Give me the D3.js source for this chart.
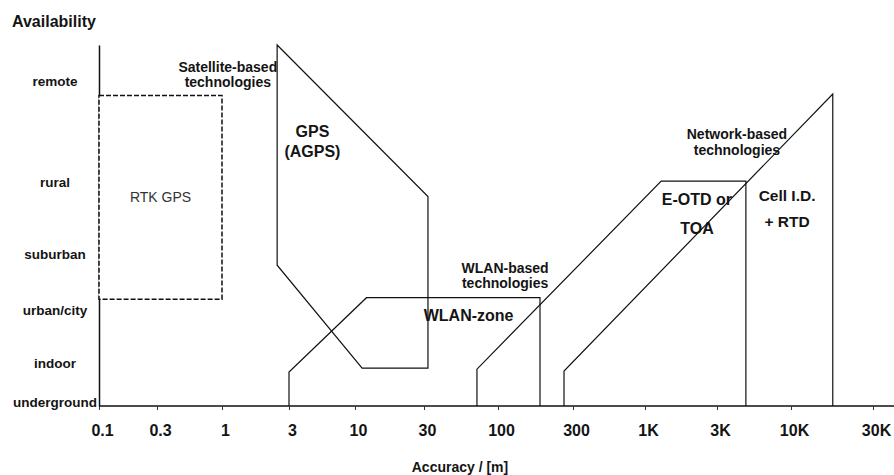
<!DOCTYPE html>
<html>
<head>
<meta charset="utf-8">
<script src="https://d3js.org/d3.v7.min.js"></script>
<style>
  body { margin: 0; background: #fff; }
  text { font-family: Arial, "Liberation Sans", sans-serif; fill: #141414; }
</style>
</head>
<body>
<div id="chart"></div>
<script>
// x: accuracy in metres (drawn as equal steps per tick, like the original)
var accTicks = [0.1, 0.3, 1, 3, 10, 30, 100, 300, 1000, 3000, 10000, 30000];
var accLabels = ["0.1", "0.3", "1", "3", "10", "30", "100", "300", "1K", "3K", "10K", "30K"];

// y: availability level, 0 = bottom of axis, 100 = top
var availLevels = [1, 12, 26.5, 42, 62, 90];
var availLabels = ["underground", "indoor", "urban/city", "suburban", "rural", "remote"];

// outlines of each technology as [accuracy, availability]
var rtkGps = [[0.1, 86], [1, 86], [1, 29.6], [0.1, 29.6]];
var gps    = [[2.47, 100], [32, 58], [32, 10.5], [11.2, 10.5], [2.47, 39]];
var wlan   = [[3, 0], [3, 9.4], [12, 30], [185, 30], [185, 0]];
var eotd   = [[71, 0], [71, 10.2], [1280, 62.3], [4800, 62.3], [4800, 0]];
var cellId = [[263, 0], [263, 9.7], [17500, 86.4], [17500, 0]];

// annotations
var noteText = [["Satellite-based", "technologies"], ["GPS", "(AGPS)"], ["RTK GPS"],
                ["WLAN-based", "technologies"], ["WLAN-zone"], ["E-OTD or", "TOA"],
                ["Cell I.D.", "+ RTD"], ["Network-based", "technologies"]];
var noteAt = [[1.1, 92.4], [4.6, 74.5], [0.32, 56.5], [111, 36.8], [62, 23.5],
              [2210, 55.7], [9380, 56.8], [4150, 73.9]];

var width = 894, height = 475;

var svg = d3.select("#chart")
  .append("svg")
    .attr("width", width)
    .attr("height", height);

// tick pixel positions as measured on the original figure (steps are not even)
var tickPx = [99, 157, 222, 289, 355, 424, 498, 573, 645, 717, 791, 873];
var x = d3.scaleLog()
  .domain(accTicks)
  .range(tickPx);

var y = d3.scaleLinear()
  .domain([0, 100])
  .range([406, 45]);

// x axis
var xAxis = svg.append("g")
  .attr("transform", "translate(0," + y(0) + ")")
  .call(d3.axisBottom(x)
    .tickValues(accTicks)
    .tickFormat(function(d, i) { return accLabels[i]; })
    .tickSize(4)
    .tickSizeOuter(0));
xAxis.select(".domain")
  .attr("d", "M" + x(0.1) + ",0H" + width)
  .attr("stroke", "#111")
  .attr("stroke-width", 1.5);
xAxis.selectAll(".tick line").attr("stroke", "#333");
xAxis.selectAll("text")
  .attr("y", 19)
  .attr("dx", 3)
  .style("font-size", "16px")
  .style("font-weight", "bold");

// y axis
var yAxis = svg.append("g")
  .attr("transform", "translate(" + x(0.1) + ",0)")
  .call(d3.axisLeft(y)
    .tickValues(availLevels)
    .tickFormat(function(d, i) { return availLabels[i]; })
    .tickSize(0)
    .tickSizeOuter(0));
yAxis.select(".domain")
  .attr("stroke", "#111")
  .attr("stroke-width", 1.5);
yAxis.selectAll("text")
  .attr("x", -44)
  .attr("text-anchor", "middle")
  .style("font-size", "13.5px")
  .style("font-weight", "bold");

var outline = d3.line()
  .x(function(d) { return x(d[0]); })
  .y(function(d) { return y(d[1]); });
var outlineClosed = d3.line()
  .x(function(d) { return x(d[0]); })
  .y(function(d) { return y(d[1]); })
  .curve(d3.curveLinearClosed);

// RTK GPS dashed box
svg.append("path")
  .attr("d", outlineClosed(rtkGps))
  .attr("fill", "#fff")
  .attr("stroke", "#111")
  .attr("stroke-width", 1.5)
  .attr("stroke-dasharray", "5,2");

svg.append("path")
  .attr("d", outlineClosed(gps))
  .attr("fill", "none")
  .attr("stroke", "#111")
  .attr("stroke-width", 1.2);

[wlan, eotd, cellId].forEach(function(shape) {
  svg.append("path")
    .attr("d", outline(shape))
    .attr("fill", "none")
    .attr("stroke", "#111")
    .attr("stroke-width", 1.2);
});

// annotation styles
var noteSize = [14, 16, 14, 14, 16, 16, 15.5, 14];
var noteGap = [15, 20, 0, 15, 0, 29, 26, 16];
var noteWeight = ["bold", "bold", "normal", "bold", "bold", "bold", "bold", "bold"];

noteText.forEach(function(lines, i) {
  var t = svg.append("text")
    .attr("x", x(noteAt[i][0]))
    .attr("y", y(noteAt[i][1]))
    .attr("text-anchor", "middle")
    .style("font-size", noteSize[i] + "px")
    .style("font-weight", noteWeight[i]);
  if (noteWeight[i] == "normal") t.style("fill", "#333");
  lines.forEach(function(s, j) {
    t.append("tspan")
      .attr("x", x(noteAt[i][0]))
      .attr("dy", j == 0 ? 0 : noteGap[i])
      .text(s);
  });
});

// axis titles
svg.append("text")
  .attr("x", 12)
  .attr("y", 27)
  .style("font-size", "16px")
  .style("font-weight", "bold")
  .text("Availability");

svg.append("text")
  .attr("x", 460)
  .attr("y", 472)
  .attr("text-anchor", "middle")
  .style("font-size", "14px")
  .style("font-weight", "bold")
  .text("Accuracy / [m]");
</script>
</body>
</html>
